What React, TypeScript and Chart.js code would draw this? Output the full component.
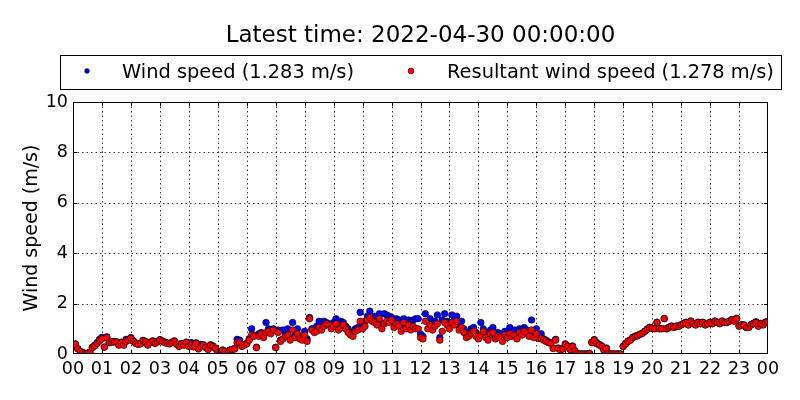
import React, { useEffect, useRef } from "react";
import { Chart, registerables } from "chart.js";

Chart.register(...registerables);

const chartTitle = "Latest time: 2022-04-30 00:00:00";
const yAxisTitle = "Wind speed (m/s)";
const seriesNames = ["Wind speed (1.283 m/s)", "Resultant wind speed (1.278 m/s)"];
const tickLabels = [
  "00", "01", "02", "03", "04", "05", "06", "07", "08", "09", "10", "11",
  "12", "13", "14", "15", "16", "17", "18", "19", "20", "21", "22", "23", "00",
];
const yTicks = [0, 2, 4, 6, 8, 10];

// 5-minute samples, 00:00 .. 24:00
const windSpeed = [
  0.32, 0.40, 0.21, 0.11, 0.06, 0.02, 0.03, 0.07, 0.27, 0.35, 0.45, 0.58,
  0.66, 0.28, 0.68, 0.47, 0.49, 0.50, 0.48, 0.37, 0.47, 0.37, 0.58, 0.58,
  0.65, 0.52, 0.44, 0.40, 0.42, 0.54, 0.50, 0.37, 0.47, 0.52, 0.44, 0.50,
  0.57, 0.52, 0.47, 0.44, 0.42, 0.47, 0.52, 0.40, 0.32, 0.42, 0.37, 0.47,
  0.32, 0.45, 0.30, 0.44, 0.22, 0.38, 0.37, 0.27, 0.20, 0.37, 0.32, 0.24,
  0.06, 0.03, 0.16, 0.11, 0.03, 0.16, 0.19, 0.21, 0.58, 0.55, 0.32, 0.38,
  0.42, 0.60, 1.00, 0.75, 0.27, 0.80, 0.85, 0.75, 1.25, 1.00, 0.85, 1.00,
  0.27, 0.95, 0.55, 0.95, 0.80, 1.00, 0.65, 1.25, 0.75, 1.00, 0.70, 0.60,
  0.90, 0.60, 1.45, 1.00, 1.00, 1.10, 1.30, 1.05, 1.30, 1.25, 1.20, 1.10,
  1.25, 1.40, 1.10, 1.30, 1.25, 1.10, 1.00, 0.85, 0.80, 1.00, 1.05, 1.65,
  1.10, 1.30, 1.50, 1.70, 1.40, 1.50, 1.35, 1.60, 1.15, 1.60, 1.55, 1.50,
  1.45, 1.25, 1.40, 1.35, 1.05, 1.40, 1.15, 1.35, 1.10, 1.35, 1.40, 1.40,
  0.80, 0.70, 1.60, 1.30, 1.40, 1.20, 1.30, 1.55, 0.65, 1.35, 1.60, 1.30,
  1.25, 1.55, 1.35, 1.50, 1.10, 1.30, 1.00, 0.80, 0.85, 1.00, 1.05, 0.85,
  0.70, 1.25, 1.00, 0.85, 0.65, 0.95, 1.05, 0.75, 0.85, 0.80, 0.60, 0.90,
  0.80, 1.05, 0.85, 0.95, 0.75, 1.00, 0.90, 1.05, 0.95, 0.85, 1.35, 0.80,
  1.00, 0.70, 0.80, 0.60, 0.55, 0.48, 0.45, 0.24, 0.58, 0.24, 0.17, 0.22,
  0.40, 0.32, 0.19, 0.32, 0.13, 0.02, 0.00, 0.00, 0.00, 0.00, 0.02, 0.47,
  0.57, 0.45, 0.39, 0.33, 0.17, 0.24, 0.02, 0.00, 0.00, 0.00, 0.00, 0.00,
  0.31, 0.41, 0.51, 0.56, 0.66, 0.71, 0.73, 0.79, 0.83, 0.91, 0.99, 1.06,
  1.03, 1.01, 1.26, 1.01, 1.01, 1.41, 1.01, 1.06, 1.11, 1.06, 1.11, 1.11,
  1.16, 1.21, 1.26, 1.16, 1.31, 1.21, 1.16, 1.26, 1.21, 1.26, 1.16, 1.21,
  1.26, 1.21, 1.31, 1.26, 1.21, 1.31, 1.26, 1.26, 1.31, 1.37, 1.32, 1.42,
  1.12, 1.16, 1.16, 1.06, 1.06, 1.17, 1.22, 1.28, 1.12, 1.22, 1.17, 1.27,
  1.283,
];

const resultantWindSpeed = [
  0.30, 0.38, 0.20, 0.10, 0.05, 0.02, 0.03, 0.06, 0.25, 0.32, 0.42, 0.52,
  0.60, 0.27, 0.65, 0.45, 0.47, 0.48, 0.47, 0.35, 0.45, 0.35, 0.50, 0.55,
  0.62, 0.50, 0.42, 0.38, 0.40, 0.52, 0.48, 0.35, 0.45, 0.50, 0.42, 0.48,
  0.55, 0.50, 0.45, 0.42, 0.40, 0.45, 0.50, 0.38, 0.30, 0.40, 0.35, 0.45,
  0.30, 0.38, 0.28, 0.42, 0.20, 0.30, 0.35, 0.25, 0.18, 0.35, 0.30, 0.22,
  0.05, 0.02, 0.15, 0.10, 0.02, 0.15, 0.18, 0.20, 0.45, 0.45, 0.30, 0.35,
  0.40, 0.55, 0.75, 0.70, 0.25, 0.70, 0.80, 0.65, 0.85, 0.90, 0.80, 0.95,
  0.25, 0.85, 0.50, 0.60, 0.70, 0.75, 0.55, 0.95, 0.65, 0.80, 0.60, 0.55,
  0.75, 0.50, 1.40, 0.95, 0.85, 0.90, 1.05, 0.95, 1.10, 1.20, 1.15, 1.00,
  1.10, 1.20, 0.95, 1.05, 1.15, 1.00, 0.85, 0.75, 0.70, 0.90, 0.95, 1.30,
  1.00, 1.10, 1.35, 1.45, 1.30, 1.25, 1.15, 1.40, 1.00, 1.20, 1.30, 1.25,
  1.35, 1.05, 1.20, 1.10, 0.90, 1.25, 1.00, 1.15, 0.95, 1.10, 1.00, 1.00,
  0.65, 0.60, 1.30, 1.00, 1.15, 0.95, 1.10, 1.20, 0.55, 0.90, 1.25, 1.15,
  1.00, 1.25, 1.15, 1.30, 0.95, 1.05, 0.85, 0.65, 0.70, 0.80, 0.90, 0.70,
  0.60, 0.75, 0.90, 0.65, 0.55, 0.80, 0.85, 0.60, 0.70, 0.65, 0.50, 0.75,
  0.65, 0.80, 0.70, 0.75, 0.60, 0.85, 0.75, 0.90, 0.80, 0.70, 0.95, 0.65,
  0.80, 0.62, 0.62, 0.55, 0.50, 0.45, 0.42, 0.22, 0.55, 0.22, 0.16, 0.20,
  0.38, 0.30, 0.18, 0.30, 0.12, 0.02, 0.00, 0.00, 0.00, 0.00, 0.02, 0.45,
  0.55, 0.42, 0.36, 0.30, 0.16, 0.22, 0.02, 0.00, 0.00, 0.00, 0.00, 0.00,
  0.30, 0.40, 0.50, 0.55, 0.65, 0.70, 0.72, 0.78, 0.82, 0.90, 0.98, 1.05,
  1.02, 1.00, 1.25, 1.00, 1.00, 1.40, 1.00, 1.05, 1.10, 1.05, 1.10, 1.10,
  1.15, 1.20, 1.25, 1.15, 1.30, 1.20, 1.15, 1.25, 1.20, 1.25, 1.15, 1.20,
  1.25, 1.20, 1.30, 1.25, 1.20, 1.30, 1.25, 1.25, 1.30, 1.35, 1.30, 1.40,
  1.10, 1.15, 1.15, 1.05, 1.05, 1.15, 1.20, 1.25, 1.10, 1.20, 1.15, 1.25,
  1.278,
];

const FONT = "'DejaVu Sans', sans-serif";
const BLUE = "#0000ff";
const RED = "#ff0000";

const toPoints = (vals: number[]) => vals.map((v, i) => ({ x: i / 12, y: v }));

const decorPlugin = {
  id: "decor",
  beforeDraw(chart: any) {
    const ctx = chart.ctx;
    ctx.save();
    ctx.fillStyle = "#ffffff";
    ctx.fillRect(0, 0, chart.width, chart.height);
    ctx.restore();
  },
  beforeDatasetsDraw(chart: any) {
    const { ctx, chartArea: a, scales } = chart;
    ctx.save();
    ctx.strokeStyle = "#000000";
    ctx.lineWidth = 0.8;
    ctx.setLineDash([1.5, 3]);
    for (let h = 1; h < 24; h++) {
      const x = Math.round(scales.x.getPixelForValue(h)) + 0.5;
      ctx.beginPath();
      ctx.moveTo(x, a.top);
      ctx.lineTo(x, a.bottom);
      ctx.stroke();
    }
    for (const v of yTicks) {
      if (v === 0 || v === 10) continue;
      const y = Math.round(scales.y.getPixelForValue(v)) + 0.5;
      ctx.beginPath();
      ctx.moveTo(a.left, y);
      ctx.lineTo(a.right, y);
      ctx.stroke();
    }
    ctx.restore();
  },
  afterDatasetsDraw(chart: any) {
    const { ctx, chartArea: a, scales } = chart;
    ctx.save();
    ctx.strokeStyle = "#000000";
    ctx.lineWidth = 1;
    ctx.setLineDash([]);
    ctx.strokeRect(Math.round(a.left) + 0.5, Math.round(a.top) + 0.5, Math.round(a.right - a.left) - 1, Math.round(a.bottom - a.top) - 1);
    const tl = 4;
    ctx.beginPath();
    for (let h = 1; h < 24; h++) {
      const x = Math.round(scales.x.getPixelForValue(h)) + 0.5;
      ctx.moveTo(x, a.bottom);
      ctx.lineTo(x, a.bottom - tl);
      ctx.moveTo(x, a.top);
      ctx.lineTo(x, a.top + tl);
    }
    for (const v of yTicks) {
      if (v === 0 || v === 10) continue;
      const y = Math.round(scales.y.getPixelForValue(v)) + 0.5;
      ctx.moveTo(a.left, y);
      ctx.lineTo(a.left + tl, y);
      ctx.moveTo(a.right, y);
      ctx.lineTo(a.right - tl, y);
    }
    ctx.stroke();
    ctx.restore();
  },
  afterDraw(chart: any) {
    const { ctx, chartArea: a } = chart;
    ctx.save();
    ctx.fillStyle = "#000000";
    // title
    ctx.font = `23px ${FONT}`;
    ctx.textAlign = "center";
    ctx.textBaseline = "alphabetic";
    ctx.fillText(chartTitle, (a.left + a.right) / 2, 42);
    // y axis title
    ctx.save();
    ctx.translate(37, (a.top + a.bottom) / 2);
    ctx.rotate(-Math.PI / 2);
    ctx.font = `19px ${FONT}`;
    ctx.textAlign = "center";
    ctx.fillText(yAxisTitle, 0, 0);
    ctx.restore();
    // legend
    ctx.strokeStyle = "#000000";
    ctx.lineWidth = 1;
    ctx.strokeRect(60.5, 55.5, 721, 34);
    const my = 71;
    ctx.beginPath();
    ctx.arc(87, my, 2.4, 0, Math.PI * 2);
    ctx.fillStyle = BLUE;
    ctx.fill();
    ctx.lineWidth = 0.5;
    ctx.stroke();
    ctx.beginPath();
    ctx.arc(411, my, 3, 0, Math.PI * 2);
    ctx.fillStyle = RED;
    ctx.fill();
    ctx.stroke();
    ctx.fillStyle = "#000000";
    ctx.font = `19.4px ${FONT}`;
    ctx.textAlign = "left";
    ctx.textBaseline = "alphabetic";
    ctx.fillText(seriesNames[0], 122, 78);
    ctx.fillText(seriesNames[1], 447, 78);
    ctx.restore();
  },
};

export default function App() {
  const ref = useRef<HTMLCanvasElement | null>(null);
  useEffect(() => {
    if (!ref.current) return;
    const chart = new Chart(ref.current, {
      type: "scatter",
      data: {
        datasets: [
          {
            label: seriesNames[0],
            data: toPoints(windSpeed),
            backgroundColor: BLUE,
            borderColor: "#000000",
            borderWidth: 0.6,
            pointRadius: 3.3,
            order: 1,
            clip: 0,
          },
          {
            label: seriesNames[1],
            data: toPoints(resultantWindSpeed),
            backgroundColor: RED,
            borderColor: "#000000",
            borderWidth: 0.6,
            pointRadius: 3.3,
            order: 0,
            clip: 0,
          },
        ],
      },
      options: {
        responsive: false,
        animation: false,
        layout: { padding: { left: 0, right: 32, top: 102, bottom: 0 } },
        plugins: {
          legend: { display: false },
          title: { display: false },
          tooltip: { enabled: false },
        },
        scales: {
          x: {
            type: "linear",
            min: 0,
            max: 24,
            afterFit: (s: any) => { s.height = 46; },
            afterBuildTicks: (s: any) => {
              s.ticks = tickLabels.map((_, i) => ({ value: i }));
            },
            ticks: {
              autoSkip: false,
              maxRotation: 0,
              minRotation: 0,
              padding: 5,
              color: "#000000",
              font: { family: FONT, size: 17.5 },
              callback: (v: any) => tickLabels[Number(v)] ?? "",
            },
            grid: { display: false, drawTicks: false },
            border: { display: false },
          },
          y: {
            type: "linear",
            min: 0,
            max: 10,
            afterFit: (s: any) => { s.width = 73; },
            afterBuildTicks: (s: any) => {
              s.ticks = yTicks.map((v) => ({ value: v }));
            },
            ticks: {
              padding: 5,
              color: "#000000",
              font: { family: FONT, size: 17.5 },
              callback: (v: any) => String(v),
            },
            grid: { display: false, drawTicks: false },
            border: { display: false },
          },
        },
      },
      plugins: [decorPlugin],
    });
    return () => chart.destroy();
  }, []);
  return (
    <div style={{ position: "absolute", left: 0, top: 0, width: 800, height: 400 }}>
      <canvas ref={ref} width={800} height={400} style={{ display: "block" }} />
    </div>
  );
}
